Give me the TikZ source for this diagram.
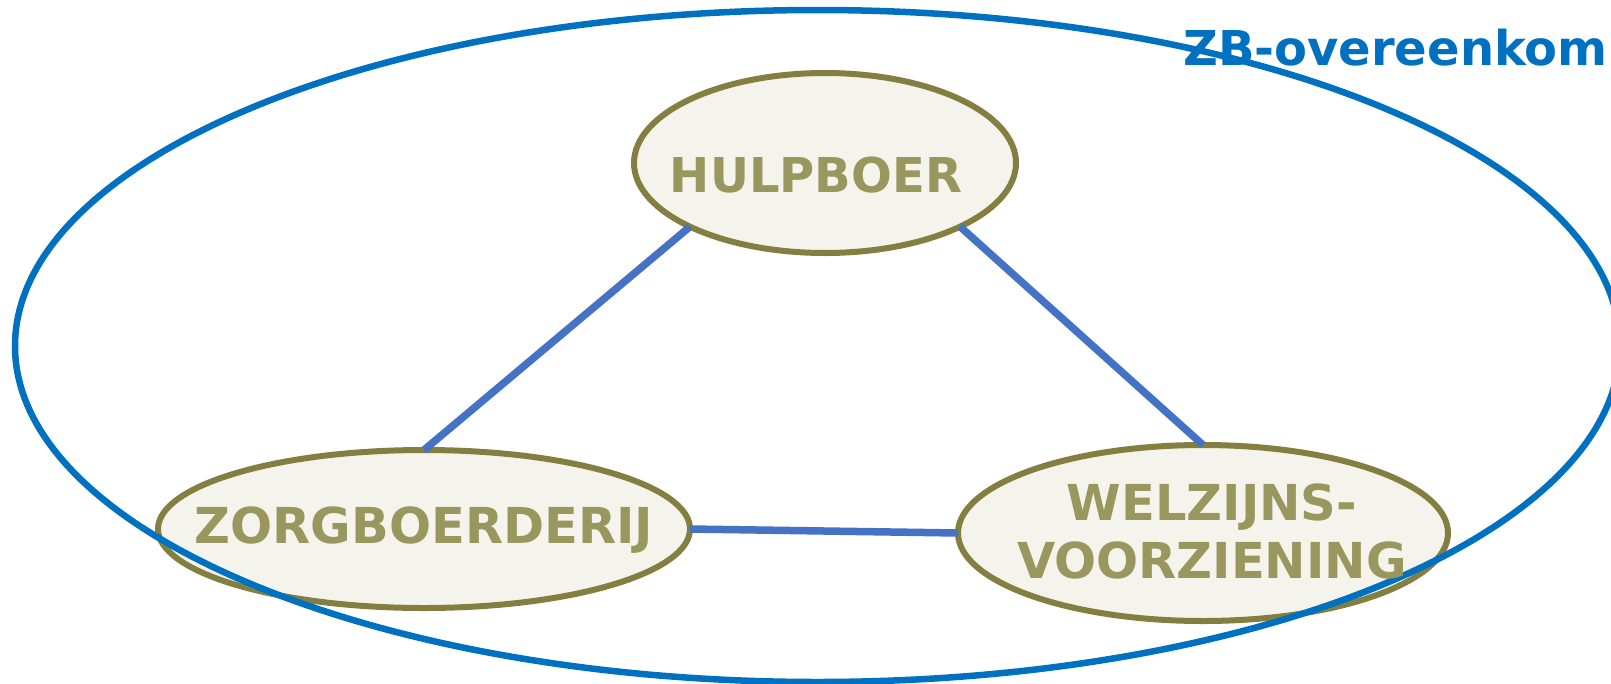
\documentclass[tikz,border=0pt]{standalone}
\usepackage{fontspec}
\setmainfont{DejaVu Sans}
\usetikzlibrary{shapes.geometric}
\definecolor{zbblue}{HTML}{0070C0}
\definecolor{linkblue}{HTML}{4472C4}
\definecolor{nodeborder}{HTML}{847F40}
\definecolor{nodefill}{HTML}{F4F4EC}
\definecolor{nodetext}{HTML}{99965E}
\begin{document}
\begin{tikzpicture}[x=1pt,y=-1pt,
  party/.style={ellipse, draw=nodeborder, fill=nodefill, line width=6pt, inner sep=0pt, outer sep=0pt},
  partytext/.style={font=\fontsize{48}{58}\selectfont\bfseries, text=nodetext, align=center, inner sep=0pt},
  widetext/.style={partytext, font=\fontsize{49.5}{58}\selectfont\bfseries},
  link/.style={draw=linkblue, line width=7.5pt},
  frame/.style={ellipse, draw=zbblue, line width=6.5pt, inner sep=0pt, outer sep=0pt},
  frametext/.style={font=\fontsize{48}{56}\selectfont\bfseries, text=zbblue, inner sep=0pt, anchor=base west}]
\useasboundingbox (0,0) rectangle (1611,683);
\node[party, minimum width=382pt, minimum height=180pt] (h) at (825,163) {};
\node[party, minimum width=532pt, minimum height=158pt] (z) at (424,529) {};
\node[party, minimum width=490pt, minimum height=176pt] (w) at (1203,533) {};
\draw[link] (h.south west) -- (z.north);
\draw[link] (h.south east) -- (w.north);
\draw[link] (z.east) -- (w.west);
\node[frame, minimum width=1605pt, minimum height=672pt] (zb) at (817.5,346) {};
\node[partytext, anchor=base] (ht) at (816,192) {HULPBOER};
\node[widetext, anchor=base] (zt) at (424,543) {ZORGBOERDERIJ};
\node[widetext, anchor=base] (wt) at (1212,578) {WELZIJNS-\\VOORZIENING};
\node[frametext] (zbt) at (1183,65) {ZB-overeenkom};
\end{tikzpicture}
\end{document}
